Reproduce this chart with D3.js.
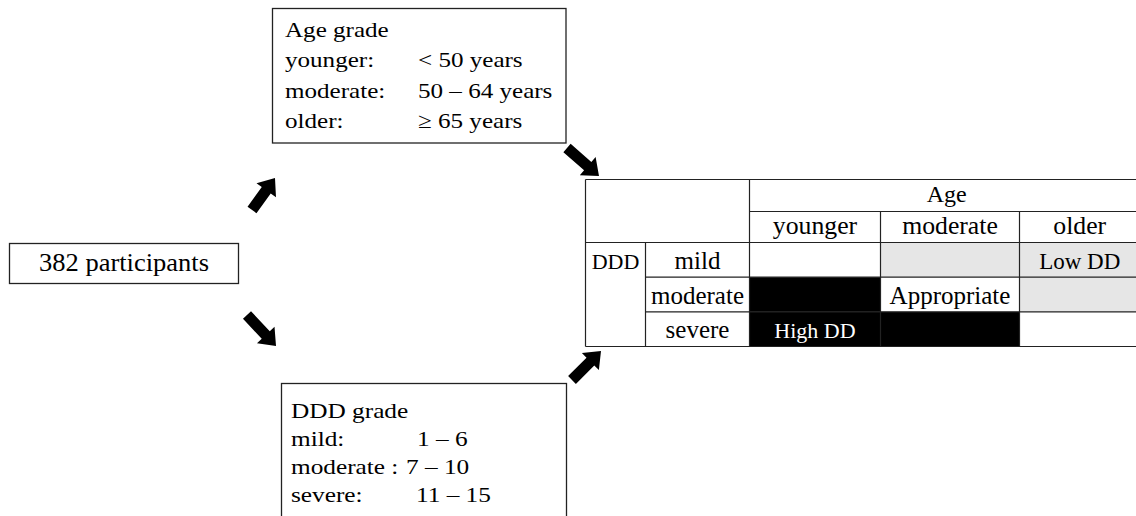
<!DOCTYPE html>
<html>
<head>
<meta charset="utf-8">
<script src="https://cdn.jsdelivr.net/npm/d3@7"></script>
<style>
  body { margin: 0; background: #fff; }
</style>
</head>
<body>
<svg id="chart" width="1136" height="516"></svg>
<script>
// ---- data ----
var participants = 382;
var ageGrades = ["younger", "moderate", "older"];
var ageLabels = ["younger:", "moderate:", "older:"];
var ageRanges = ["< 50 years", "50 – 64 years", "≥ 65 years"];
var dddGrades = ["mild", "moderate", "severe"];
var dddLabels = ["mild:", "moderate :", "severe:"];
var dddRanges = ["1 – 6", "7 – 10", "11 – 15"];
// level of each cell, rows = DDD grade, cols = age grade
var levels = [["none", "low", "low"],
              ["high", "appropriate", "low"],
              ["high", "high", "none"]];
var cellLabels = [{ddd: "mild", age: "older", text: "Low DD"},
                  {ddd: "moderate", age: "moderate", text: "Appropriate"},
                  {ddd: "severe", age: "younger", text: "High DD"}];

var fills = {none: "#fff", low: "#e6e6e6", appropriate: "#fff", high: "#000"};
var ink = "#222";
var serif = "'Liberation Serif', 'Times New Roman', Times, serif";

var svg = d3.select("#chart");

function txt(s, x, y, size, sx, anchor, color){
    return svg.append("text")
        .attr("transform", "translate(" + x + "," + y + ") scale(" + sx + ",1)")
        .attr("font-family", serif)
        .attr("font-size", size)
        .attr("text-anchor", anchor || "start")
        .attr("fill", color || "#000")
        .text(s);
}

function box(x, y, w, h){
    svg.append("rect").attr("x", x).attr("y", y).attr("width", w).attr("height", h)
        .attr("fill", "none").attr("stroke", ink).attr("stroke-width", 1.3);
}

// ---- participants box ----
box(9.5, 243.5, 229, 40);
txt(participants + " participants", 124, 271, 25, 1.06, "middle");

// ---- age grade box ----
box(272.5, 8.5, 293.5, 134.5);
var ageLine = d3.scaleLinear().domain([0, 3]).range([37, 128]);
txt("Age grade", 285, ageLine(0), 22, 1.14);
ageLabels.forEach(function(d, i){
    txt(d, 285, ageLine(i + 1), 22, 1.14);
    txt(ageRanges[i], 418, ageLine(i + 1), 22, 1.14);
});

// ---- DDD grade box ----
box(281.5, 383.5, 285, 140);
var dddLine = d3.scaleLinear().domain([0, 3]).range([418, 502]);
var rangeX = [417, 406, 416];
txt("DDD grade", 291, dddLine(0), 22, 1.15);
dddLabels.forEach(function(d, i){
    txt(d, 291, dddLine(i + 1), 22, 1.15);
    txt(dddRanges[i], rangeX[i], dddLine(i + 1), 22, 1.15);
});

// ---- arrows ----
var arrows = [[252, 210, 275, 178], [567, 148, 599, 176], [247, 315, 276, 346], [572, 380, 601, 351]];
arrows.forEach(function(a){
    var dx = a[2] - a[0], dy = a[3] - a[1];
    var len = Math.sqrt(dx * dx + dy * dy);
    var ang = Math.atan2(dy, dx) * 180 / Math.PI;
    var hl = 15, hw = 12, sw = 5.5;
    var p = d3.path();
    p.moveTo(0, -sw); p.lineTo(len - hl, -sw); p.lineTo(len - hl, -hw);
    p.lineTo(len, 0); p.lineTo(len - hl, hw); p.lineTo(len - hl, sw);
    p.lineTo(0, sw); p.closePath();
    svg.append("path").attr("d", p.toString()).attr("fill", "#000")
        .attr("transform", "translate(" + a[0] + "," + a[1] + ") rotate(" + ang + ")");
});

// ---- table ----
var tLeft = 585.5, tTop = 179.5, tRight = 1140, tBottom = 346.5;
var ageRow = 211.5, headBottom = 242.5, dddCol = 645.5, gradeCol = 749.5;
var x = d3.scaleOrdinal().domain(ageGrades).range([749.5, 880.5, 1019.5]);
var w = d3.scaleOrdinal().domain(ageGrades).range([131, 139, 120.5]);
var y = d3.scaleBand().domain(dddGrades).range([headBottom, tBottom]);

// cell fills
dddGrades.forEach(function(r, i){
    ageGrades.forEach(function(c, j){
        svg.append("rect").attr("x", x(c)).attr("y", y(r))
            .attr("width", w(c)).attr("height", y.bandwidth())
            .attr("fill", fills[levels[i][j]]);
    });
});

// grid lines
var lines = [
    [tLeft, tTop, tRight, tTop], [tLeft, tBottom, tRight, tBottom], [tLeft, tTop, tLeft, tBottom],
    [gradeCol, ageRow, tRight, ageRow], [tLeft, headBottom, tRight, headBottom],
    [gradeCol, tTop, gradeCol, tBottom], [dddCol, headBottom, dddCol, tBottom]
];
ageGrades.slice(1).forEach(function(c){ lines.push([x(c), ageRow, x(c), tBottom]); });
dddGrades.slice(1).forEach(function(r){ lines.push([dddCol, y(r), tRight, y(r)]); });
svg.selectAll("line.grid").data(lines).enter().append("line")
    .attr("class", "grid")
    .attr("x1", function(d){ return d[0]; }).attr("y1", function(d){ return d[1]; })
    .attr("x2", function(d){ return d[2]; }).attr("y2", function(d){ return d[3]; })
    .attr("stroke", ink).attr("stroke-width", 1.2);

// header texts
txt("Age", (gradeCol + tRight) / 2 + 2, 202, 24, 1, "middle");
ageGrades.forEach(function(c){
    txt(c, x(c) + w(c) / 2, 234, 25, 1.03, "middle");
});
txt("DDD", (tLeft + dddCol) / 2, y("mild") + y.bandwidth() / 2 + 9, 22, 1, "middle");
dddGrades.forEach(function(r){
    txt(r, (dddCol + gradeCol) / 2, y(r) + y.bandwidth() / 2 + 9, 25, 1, "middle");
});

// cell labels
cellLabels.forEach(function(d){
    var lv = levels[dddGrades.indexOf(d.ddd)][ageGrades.indexOf(d.age)];
    txt(d.text, x(d.age) + w(d.age) / 2, y(d.ddd) + y.bandwidth() / 2 + 9,
        lv == "appropriate" ? 25 : (lv == "low" ? 23 : 22), 1, "middle",
        lv == "high" ? "#fff" : "#000");
});
</script>
</body>
</html>
